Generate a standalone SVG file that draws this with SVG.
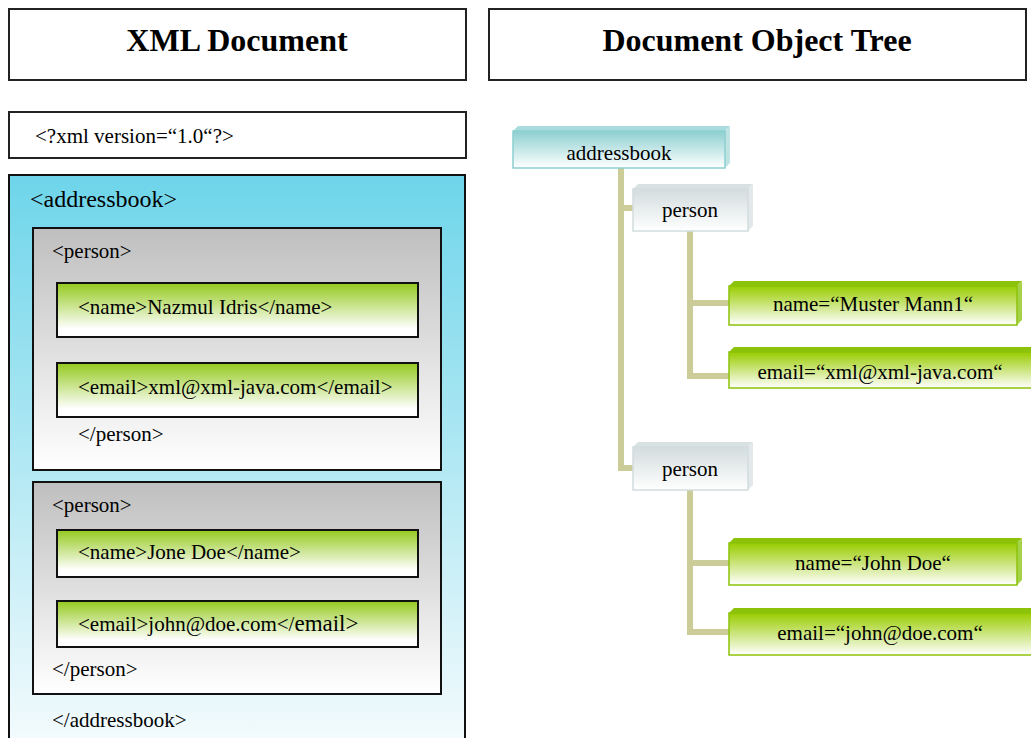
<svg xmlns="http://www.w3.org/2000/svg" width="1031" height="738" viewBox="0 0 1031 738">
  <style>
    .t { font-family: "Liberation Serif", "Times New Roman", serif; fill: #000; }
    .h { font-size: 32px; font-weight: bold; text-anchor: middle; }
    .b { font-size: 21px; }
    .c { font-size: 21px; text-anchor: middle; }
    .frame { fill: #fff; stroke: #222; stroke-width: 2; }
    .tag { stroke: #111; stroke-width: 2; }
    .link { fill: none; stroke: #cccc99; stroke-width: 6; stroke-linejoin: miter; }
  </style>
  <defs>
    <linearGradient id="gAddr" x1="0" y1="0" x2="0" y2="1">
      <stop offset="0" stop-color="#6ed5ea"/>
      <stop offset="1" stop-color="#f4fbfd"/>
    </linearGradient>
    <linearGradient id="gPerson" x1="0" y1="0" x2="0" y2="1">
      <stop offset="0" stop-color="#bfbfbf"/>
      <stop offset="1" stop-color="#ffffff"/>
    </linearGradient>
    <linearGradient id="gLeaf" x1="0" y1="0" x2="0" y2="1">
      <stop offset="0" stop-color="#94c91e"/>
      <stop offset="0.85" stop-color="#ffffff"/>
    </linearGradient>
    <linearGradient id="gTeal" x1="0" y1="0" x2="0" y2="1">
      <stop offset="0" stop-color="#8dcfd0"/>
      <stop offset="1" stop-color="#ffffff"/>
    </linearGradient>
    <linearGradient id="gGrey" x1="0" y1="0" x2="0" y2="1">
      <stop offset="0" stop-color="#d3dcde"/>
      <stop offset="1" stop-color="#ffffff"/>
    </linearGradient>
    <linearGradient id="gGreen" x1="0" y1="0" x2="0" y2="1">
      <stop offset="0" stop-color="#99cc00"/>
      <stop offset="1" stop-color="#ffffff"/>
    </linearGradient>
  </defs>

  <!-- column headings -->
  <g id="head-xml">
    <rect class="frame" x="9" y="9" width="457" height="71"/>
    <text class="t h" x="237" y="51">XML Document</text>
  </g>
  <g id="head-tree">
    <rect class="frame" x="489" y="9" width="537" height="71"/>
    <text class="t h" x="757" y="51">Document Object Tree</text>
  </g>

  <!-- XML source listing -->
  <g id="xml-decl">
    <rect class="frame" x="9" y="112" width="457" height="46"/>
    <text class="t b" x="35" y="143">&lt;?xml version=“1.0“?&gt;</text>
  </g>
  <g id="xml-addressbook">
    <rect x="9" y="175" width="456" height="570" fill="url(#gAddr)" stroke="#111" stroke-width="2"/>
    <text class="t" x="30" y="207" font-size="24px">&lt;addressbook&gt;</text>
    <text class="t b" x="52" y="727">&lt;/addressbook&gt;</text>
  </g>
  <g id="xml-person1">
    <rect class="tag" x="33" y="228" width="408" height="242" fill="url(#gPerson)"/>
    <text class="t b" x="52" y="258">&lt;person&gt;</text>
    <text class="t b" x="78" y="441">&lt;/person&gt;</text>
  </g>
  <g id="xml-name1">
    <rect class="tag" x="57" y="283" width="361" height="54" fill="url(#gLeaf)"/>
    <text class="t b" x="78" y="314">&lt;name&gt;Nazmul Idris&lt;/name&gt;</text>
  </g>
  <g id="xml-email1">
    <rect class="tag" x="57" y="363" width="361" height="54" fill="url(#gLeaf)"/>
    <text class="t b" x="78" y="394">&lt;email&gt;xml@xml-java.com&lt;/email&gt;</text>
  </g>
  <g id="xml-person2">
    <rect class="tag" x="33" y="482" width="408" height="212" fill="url(#gPerson)"/>
    <text class="t b" x="52" y="512">&lt;person&gt;</text>
    <text class="t b" x="52" y="676">&lt;/person&gt;</text>
  </g>
  <g id="xml-name2">
    <rect class="tag" x="57" y="530" width="361" height="47" fill="url(#gLeaf)"/>
    <text class="t b" x="78" y="559">&lt;name&gt;Jone Doe&lt;/name&gt;</text>
  </g>
  <g id="xml-email2">
    <rect class="tag" x="57" y="601" width="361" height="46" fill="url(#gLeaf)"/>
    <text class="t b" x="78" y="631">&lt;email&gt;john@doe.com&lt;/<tspan font-size="23px">email&gt;</tspan></text>
  </g>

  <!-- tree connectors -->
  <g id="connectors">
    <path class="link" d="M621 168 V468 H633 M621 208 H633"/>
    <path class="link" d="M690 231 V376 H729 M690 303 H729"/>
    <path class="link" d="M690 490 V632 H729 M690 563 H729"/>
  </g>

  <!-- tree nodes: front face, bevelled top and side faces -->
  <g id="tree-addressbook">
    <polygon points="513,131 518,126 730,126 725,131" fill="#a9dcdc"/>
    <polygon points="725,131 730,126 730,163 725,168" fill="#bfe3e3"/>
    <rect x="513" y="131" width="212" height="37" fill="url(#gTeal)" stroke="#8ccfcf" stroke-width="1.5"/>
    <text class="t c" x="619" y="160">addressbook</text>
  </g>
  <g id="tree-person1">
    <polygon points="633,189 638,184 753,184 748,189" fill="#d9e1e3"/>
    <polygon points="748,189 753,184 753,226 748,231" fill="#e3e9ea"/>
    <rect x="633" y="189" width="115" height="42" fill="url(#gGrey)" stroke="#d2dcde" stroke-width="1.5"/>
    <text class="t c" x="690" y="217">person</text>
  </g>
  <g id="tree-name1">
    <polygon points="729,286 734,281 1022,281 1017,286" fill="#8dc20a"/>
    <polygon points="1017,286 1022,281 1022,320 1017,325" fill="#a6d24a"/>
    <rect x="729" y="286" width="288" height="39" fill="url(#gGreen)" stroke="#8cc20a" stroke-width="1.5"/>
    <text class="t c" x="873" y="311">name=“Muster Mann1“</text>
  </g>
  <g id="tree-email1">
    <polygon points="729,352 734,347 1036,347 1031,352" fill="#8dc20a"/>
    <rect x="729" y="352" width="310" height="36" fill="url(#gGreen)" stroke="#8cc20a" stroke-width="1.5"/>
    <text class="t c" x="880" y="379">email=“xml@xml-java.com“</text>
  </g>
  <g id="tree-person2">
    <polygon points="633,447 638,442 753,442 748,447" fill="#d9e1e3"/>
    <polygon points="748,447 753,442 753,485 748,490" fill="#e3e9ea"/>
    <rect x="633" y="447" width="115" height="43" fill="url(#gGrey)" stroke="#d2dcde" stroke-width="1.5"/>
    <text class="t c" x="690" y="476">person</text>
  </g>
  <g id="tree-name2">
    <polygon points="729,543 734,538 1022,538 1017,543" fill="#8dc20a"/>
    <polygon points="1017,543 1022,538 1022,580 1017,585" fill="#a6d24a"/>
    <rect x="729" y="543" width="288" height="42" fill="url(#gGreen)" stroke="#8cc20a" stroke-width="1.5"/>
    <text class="t c" x="873" y="570">name=“John Doe“</text>
  </g>
  <g id="tree-email2">
    <polygon points="729,613 734,608 1036,608 1031,613" fill="#8dc20a"/>
    <rect x="729" y="613" width="310" height="42" fill="url(#gGreen)" stroke="#8cc20a" stroke-width="1.5"/>
    <text class="t c" x="880" y="640">email=“john@doe.com“</text>
  </g>
</svg>
